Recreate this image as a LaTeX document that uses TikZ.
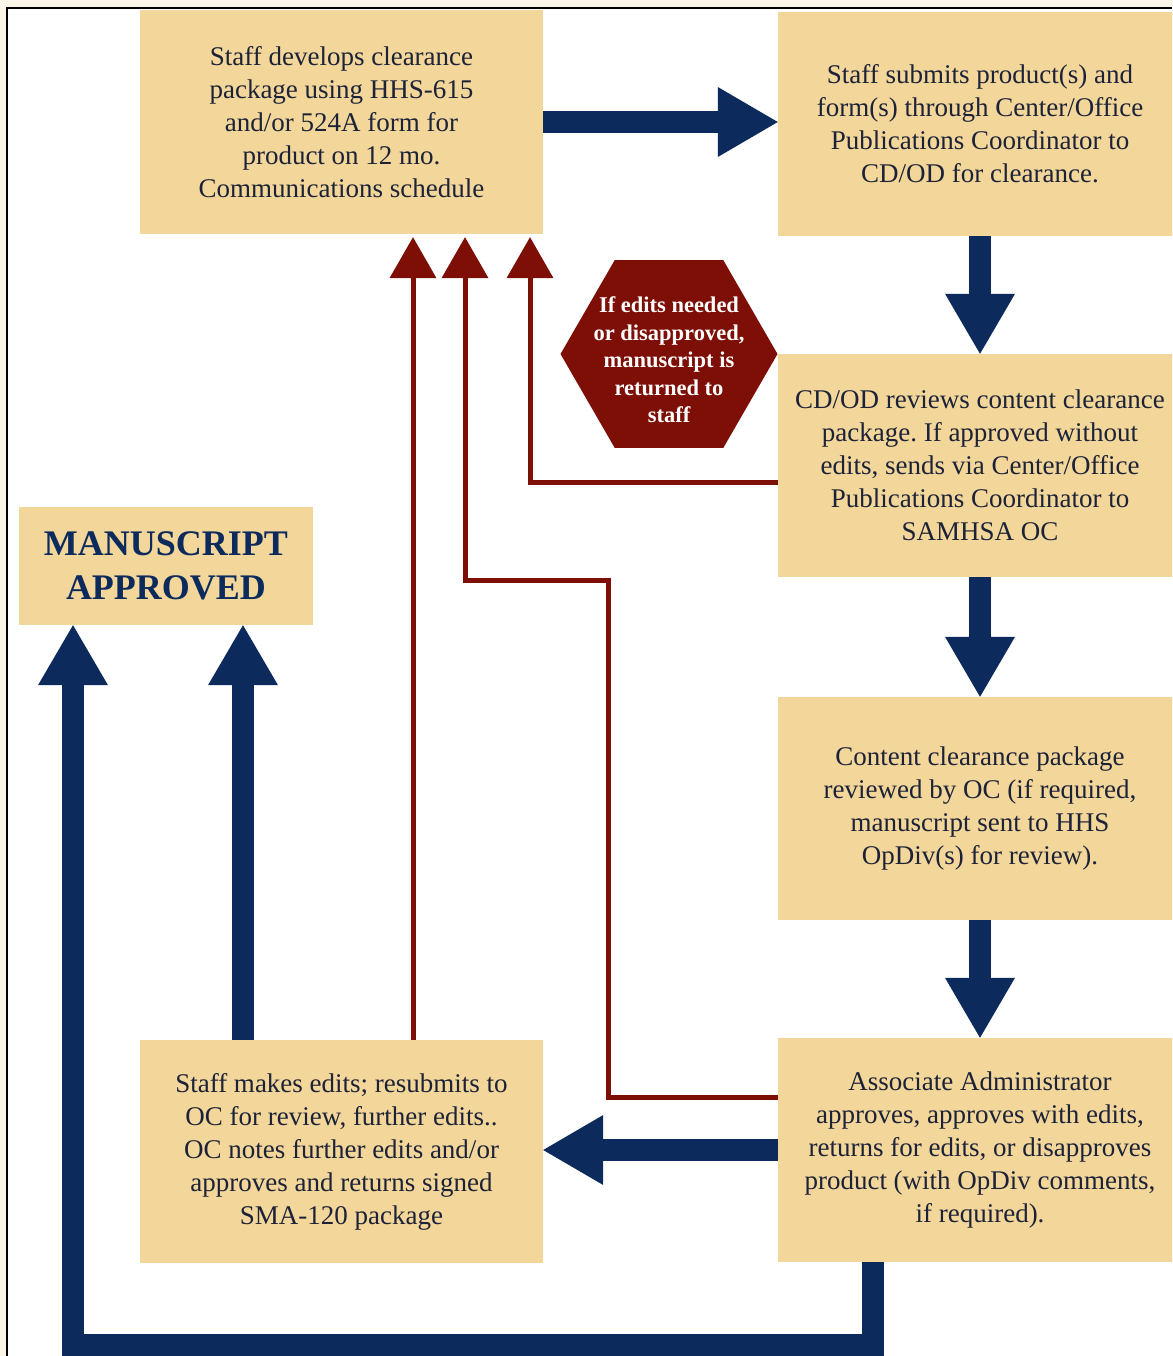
\documentclass[tikz,border=0pt]{standalone}
\usepackage{fontspec}
\setmainfont{Liberation Serif}
\usetikzlibrary{arrows.meta,shapes.geometric,calc}
\definecolor{boxfill}{HTML}{F3D699}
\definecolor{navy}{HTML}{0C2A5C}
\definecolor{redc}{HTML}{7D0F07}
\definecolor{txt}{HTML}{1C2238}
\definecolor{cream}{HTML}{FAF5E6}
\frenchspacing
\begin{document}
\begin{tikzpicture}[x=1pt,y=-1pt,
  box/.style={fill=boxfill, draw=none, minimum width=403pt, minimum height=224pt,
    align=center, text=txt, inner sep=0pt, font=\fontsize{27}{33}\selectfont},
  bluearrow/.style={draw=navy, line width=22pt, line join=miter,
    -{Triangle[width=70pt,length=60pt,line width=0pt]}},
  redarrow/.style={draw=redc, line width=5pt, line join=miter, shorten >=3pt,
    -{Triangle[width=47pt,length=41pt,line width=0pt]}}]
\clip (0,0) rectangle (1172,1356);
\fill[cream] (0,0) rectangle (1172,1356);
\fill[white] (7,8) rectangle (1172,1356);
\draw[black, line width=2pt] (7,1356) -- (7,8) -- (1172,8);

% boxes
\node[box] (A) at (341.5,122) {Staff develops clearance\\package using HHS-615\\and/or 524A form for\\product on 12 mo.\\Communications schedule};
\node[box, minimum width=404pt] (B) at (980,124) {Staff submits product(s) and\\form(s) through Center/Office\\Publications Coordinator to\\CD/OD for clearance.};
\node[box, minimum width=404pt, minimum height=223pt] (C) at (980,465.5) {CD/OD reviews content clearance\\package. If approved without\\edits, sends via Center/Office\\Publications Coordinator to\\SAMHSA OC};
\node[box, minimum width=404pt, minimum height=223pt] (D) at (980,808.5) {Content clearance package\\reviewed by OC (if required,\\manuscript sent to HHS\\OpDiv(s) for review).};
\node[box, minimum width=404pt] (E) at (980,1150) {Associate Administrator\\approves, approves with edits,\\returns for edits, or disapproves\\product (with OpDiv comments,\\if required).};
\node[box, minimum height=223pt] (F) at (341.5,1151.5) {Staff makes edits; resubmits to\\OC for review, further edits..\\OC notes further edits and/or\\approves and returns signed\\SMA-120 package};
\node[box, minimum width=294pt, minimum height=118pt, text=navy,
  font=\fontsize{36}{44}\selectfont\bfseries] (G) at (166,566) {MANUSCRIPT\\APPROVED};

% hexagon
\node[regular polygon, regular polygon sides=6, minimum size=217pt, inner sep=0pt,
  fill=redc, draw=none] (hex) at (669,354) {};
\node[align=center, text=white, inner sep=0pt, font=\fontsize{22.5}{27.5}\selectfont\bfseries]
  (hextext) at ([yshift=-6pt]hex.center) {If edits needed\\or disapproved,\\manuscript is\\returned to\\staff};

% blue arrows
\draw[bluearrow] (A.east) -- (A.east -| B.west);
\draw[bluearrow] (B.south) -- (C.north);
\draw[bluearrow] (C.south) -- (D.north);
\draw[bluearrow] (D.south) -- (E.north);
\draw[bluearrow] (E.west) -- (E.west -| F.east);
\draw[bluearrow] ([xshift=-98.5pt]F.north) -- ([xshift=-98.5pt]F.north |- G.south);
\coordinate (loop) at (73,1345);
\draw[bluearrow] ([xshift=-107pt]E.south) |- (loop) -- (loop |- G.south);

% red arrows
\draw[redarrow] ([xshift=71.5pt]F.north) -- ([xshift=71.5pt]A.south);
\coordinate (r2) at (608,580);
\draw[redarrow] ([yshift=53pt]E.west) -| (r2) -| ([xshift=123.5pt]A.south);
\draw[redarrow] ([yshift=-16.5pt]C.west) -| ([xshift=188.5pt]A.south);
\end{tikzpicture}
\end{document}
